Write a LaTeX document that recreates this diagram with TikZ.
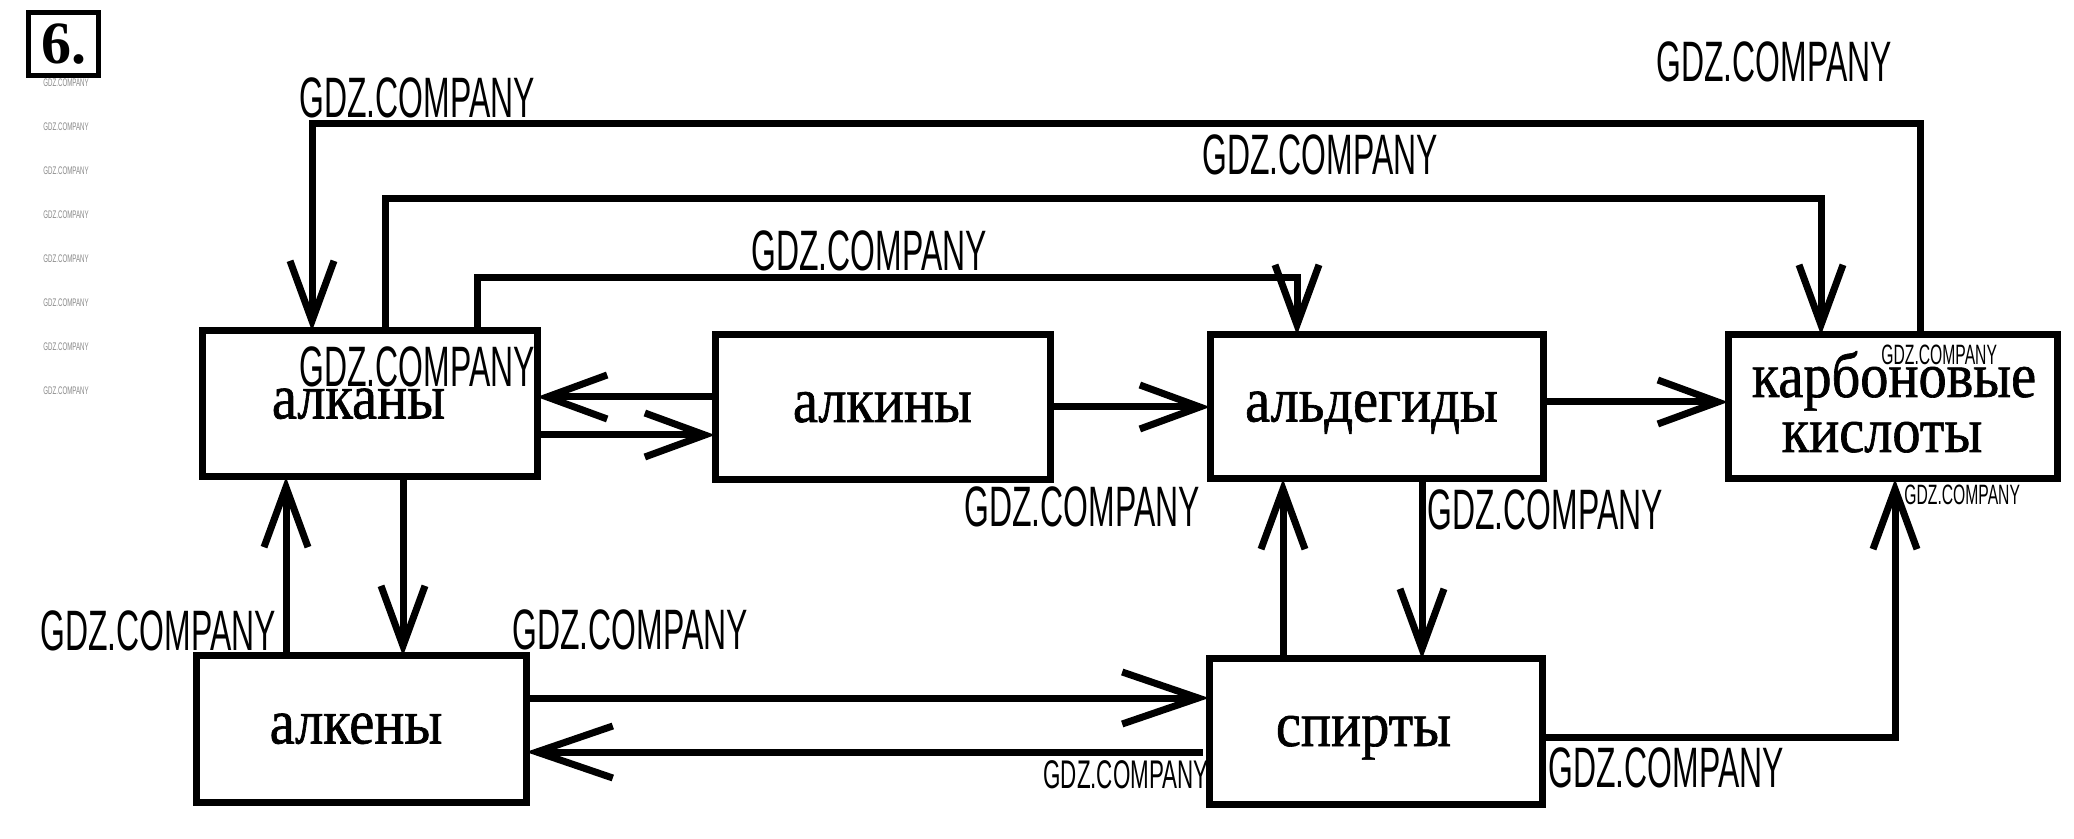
\documentclass[tikz,border=0pt]{standalone}
\usepackage{fontspec}
\setmainfont{Liberation Serif}
\newfontfamily\boxfont{Liberation Serif}[FakeStretch=0.88,FakeBold=1]
\newfontfamily\gdzfont{Liberation Sans}[FakeStretch=0.56]
\usetikzlibrary{arrows.meta}
\definecolor{wmgray}{HTML}{8A8A8A}
\begin{document}
\begin{tikzpicture}[x=0.5pt,y=-0.5pt,
  box/.style={draw, line width=3.5pt, inner sep=0pt, outer sep=0pt,
    font=\boxfont\fontsize{32}{27.5}\selectfont, text height=14.5pt, text depth=0pt},
  boxtext/.style={inner sep=0pt, anchor=base, font=\boxfont\fontsize{32}{27.5}\selectfont},
  conn/.style={line width=3.5pt, -{Straight Barb[length=30pt,width=22pt]}},
  bigconn/.style={line width=3.5pt, -{Straight Barb[length=38pt,width=26pt]}},
  gdz/.style={font=\gdzfont\fontsize{28.5}{30}\selectfont, anchor=base west, inner sep=0pt},
  gdzmid/.style={font=\gdzfont\fontsize{20}{22}\selectfont, anchor=base west, inner sep=0pt},
  gdzsmall/.style={font=\gdzfont\fontsize{14}{16}\selectfont, anchor=base west, inner sep=0pt},
  gdztiny/.style={font=\gdzfont\fontsize{5.5}{6}\selectfont, anchor=base west, inner sep=0pt, text=wmgray}]
\useasboundingbox (0,0) rectangle (2074,839);
\fill[white] (0,0) rectangle (2074,839);

% number box
\node[draw, line width=2.5pt, inner sep=0pt, outer sep=0pt, minimum width=35pt, minimum height=31.5pt,
  font=\bfseries\fontsize{30}{30}\selectfont] (num) at (63.5,44) {6.};

% tiny watermarks
\foreach \i/\yy in {1/87,2/131,3/175,4/219,5/263,6/307,7/351,8/395}
  \node[gdztiny] (t\i) at (43,\yy) {GDZ.COMPANY};

% boxes
\node[box, minimum width=167.5pt, minimum height=73pt] (alkany) at (369.5,404) {алканы\hspace*{11pt}};
\node[box, minimum width=167.5pt, minimum height=72.5pt] (alkiny) at (882.5,407.5) {алкины};
\node[box, minimum width=166.5pt, minimum height=72pt] (aldeh) at (1376.5,407) {альдегиды\hspace*{5pt}};
\node[box, minimum width=164.5pt, minimum height=72pt] (carbox) at (1892.5,407) {};
\node[boxtext] (carbox1) at (1894,397) {карбоновые};
\node[boxtext] (carbox2) at (1882,452) {кислоты};
\node[box, minimum width=165pt, minimum height=73pt] (alkeny) at (361,729) {алкены\hspace*{5pt}};
\node[box, minimum width=166.5pt, minimum height=72.5pt] (spirts) at (1375.5,731.5) {спирты\hspace*{12pt}};

% long loops on top
\draw[conn] (1920,0 |- carbox.north) |- (312,124) -- (312,0 |- alkany.north);
\draw[conn] (385,0 |- alkany.north) |- (1821,199) -- (1821,0 |- carbox.north);
\draw[conn] (477,0 |- alkany.north) |- (1297,278) -- (1297,0 |- aldeh.north);

% middle row
\draw[conn] (alkiny.west |- 0,397) -- (alkany.east |- 0,397);
\draw[conn] (alkany.east |- 0,435) -- (alkiny.west |- 0,435);
\draw[conn] (alkiny.east |- 0,407) -- (aldeh.west |- 0,407);
\draw[conn] (aldeh.east |- 0,402) -- (carbox.west |- 0,402);

% verticals
\draw[conn] (403,0 |- alkany.south) -- (403,0 |- alkeny.north);
\draw[conn] (286,0 |- alkeny.north) -- (286,0 |- alkany.south);
\draw[conn] (1283,0 |- spirts.north) -- (1283,0 |- aldeh.south);
\draw[conn] (1422,0 |- aldeh.south) -- (1422,0 |- spirts.north);
\draw[conn] (spirts.east |- 0,737) -| (1895,0 |- carbox.south);

% bottom row
\draw[bigconn] (alkeny.east |- 0,698) -- (spirts.west |- 0,698);
\draw[bigconn, shorten <=3pt] (spirts.west |- 0,752) -- (alkeny.east |- 0,752);

% big watermarks
\node[gdz] (g1) at (299,118) {GDZ.COMPANY};
\node[gdz] (g2) at (299,387) {GDZ.COMPANY};
\node[gdz] (g3) at (751,271) {GDZ.COMPANY};
\node[gdz] (g4) at (1202,175) {GDZ.COMPANY};
\node[gdz] (g5) at (1656,82) {GDZ.COMPANY};
\node[gdz] (g6) at (964,527) {GDZ.COMPANY};
\node[gdz] (g7) at (1427,530) {GDZ.COMPANY};
\node[gdz] (g8) at (40,651) {GDZ.COMPANY};
\node[gdz] (g9) at (512,650) {GDZ.COMPANY};
\node[gdz] (g10) at (1548,787) {GDZ.COMPANY};
\node[gdzmid] (m1) at (1043,788) {GDZ.COMPANY};
\node[gdzsmall] (s1) at (1881,365) {GDZ.COMPANY};
\node[gdzsmall] (s2) at (1904,505) {GDZ.COMPANY};
\end{tikzpicture}
\end{document}
